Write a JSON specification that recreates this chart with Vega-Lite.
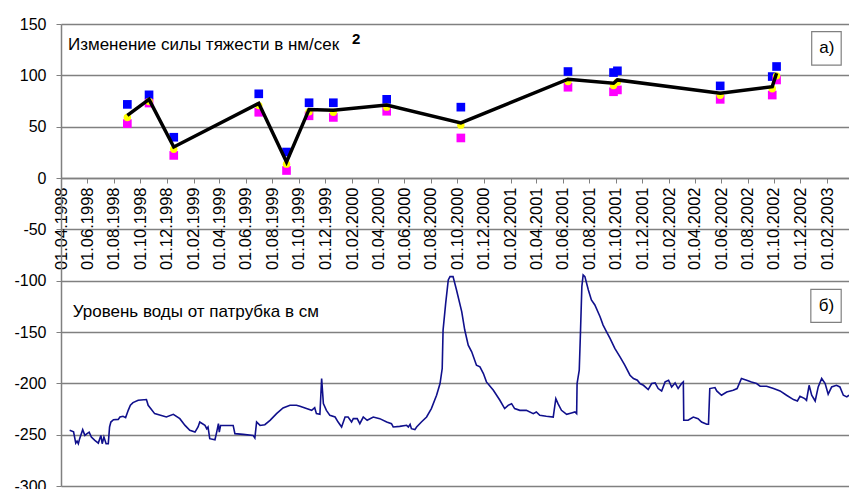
{
  "$schema": "https://vega.github.io/schema/vega-lite/v6.json",
  "autosize": {"type": "none"},
  "padding": {"left": 61, "top": 24, "right": 0, "bottom": 3},
  "width": 788,
  "height": 462,
  "config": {
    "view": {"stroke": null},
    "font": "Liberation Sans"
  },
  "datasets": {
    "grav": [
      {"date": "1998-09-01", "blue": 71.7, "magenta": 53, "mean": 61, "yellow": 59},
      {"date": "1998-10-21", "blue": 81, "magenta": 73, "mean": 76.6, "yellow": 74.5},
      {"date": "1998-12-17", "blue": 39.7, "magenta": 22, "mean": 30.2, "yellow": 28},
      {"date": "1999-07-01", "blue": 82, "magenta": 64, "mean": 72.7, "yellow": 70.5},
      {"date": "1999-09-03", "blue": 25.3, "magenta": 7.3, "mean": 15.5, "yellow": 13.5},
      {"date": "1999-10-25", "blue": 73.3, "magenta": 60.6, "mean": 66.8, "yellow": 64.5},
      {"date": "1999-12-20", "blue": 73.3, "magenta": 59, "mean": 66, "yellow": 64},
      {"date": "2000-04-21", "blue": 76.6, "magenta": 65, "mean": 71, "yellow": 69},
      {"date": "2000-10-09", "blue": 69, "magenta": 39, "mean": 53.7, "yellow": 51.5},
      {"date": "2001-06-13", "blue": 103.7, "magenta": 88.4, "mean": 96.2, "yellow": 94},
      {"date": "2001-09-26", "blue": 102.7, "magenta": 84, "mean": 92.3, "yellow": 90},
      {"date": "2001-10-05", "blue": 104.4, "magenta": 85.8, "mean": 95.5, "yellow": 93.5},
      {"date": "2002-05-30", "blue": 89.7, "magenta": 76.6, "mean": 82.5, "yellow": 80.5},
      {"date": "2002-09-27", "blue": 98.8, "magenta": 80.8, "mean": 89, "yellow": 87},
      {"date": "2002-10-07", "blue": 108.6, "magenta": 95.5, "mean": 102, "yellow": 99.5}
    ],
    "water": [
      {"date": "1998-04-21", "level": -245.8},
      {"date": "1998-04-30", "level": -247.2},
      {"date": "1998-05-05", "level": -258.2},
      {"date": "1998-05-08", "level": -256.2},
      {"date": "1998-05-11", "level": -258.8},
      {"date": "1998-05-14", "level": -253.9},
      {"date": "1998-05-21", "level": -245.1},
      {"date": "1998-05-26", "level": -250.7},
      {"date": "1998-05-31", "level": -249},
      {"date": "1998-06-05", "level": -247.5},
      {"date": "1998-06-10", "level": -252.3},
      {"date": "1998-06-18", "level": -255.6},
      {"date": "1998-06-26", "level": -258.2},
      {"date": "1998-07-02", "level": -250.7},
      {"date": "1998-07-05", "level": -258.8},
      {"date": "1998-07-09", "level": -252.3},
      {"date": "1998-07-14", "level": -258.8},
      {"date": "1998-07-19", "level": -258.8},
      {"date": "1998-07-22", "level": -242.5},
      {"date": "1998-07-25", "level": -237.7},
      {"date": "1998-07-31", "level": -235.4},
      {"date": "1998-08-11", "level": -235.1},
      {"date": "1998-08-15", "level": -232.8},
      {"date": "1998-08-22", "level": -232.1},
      {"date": "1998-08-28", "level": -233.4},
      {"date": "1998-09-03", "level": -226.3},
      {"date": "1998-09-08", "level": -221.4},
      {"date": "1998-09-14", "level": -218.8},
      {"date": "1998-09-26", "level": -216.5},
      {"date": "1998-10-15", "level": -215.8},
      {"date": "1998-10-19", "level": -221.4},
      {"date": "1998-11-03", "level": -229.5},
      {"date": "1998-11-30", "level": -232.8},
      {"date": "1998-12-16", "level": -230.2},
      {"date": "1998-12-31", "level": -234.4},
      {"date": "1999-01-12", "level": -241},
      {"date": "1999-01-23", "level": -245.8},
      {"date": "1999-02-04", "level": -247.5},
      {"date": "1999-02-11", "level": -242.5},
      {"date": "1999-02-15", "level": -237.7},
      {"date": "1999-02-27", "level": -241},
      {"date": "1999-03-03", "level": -244.2},
      {"date": "1999-03-06", "level": -242.5},
      {"date": "1999-03-10", "level": -253.9},
      {"date": "1999-03-22", "level": -254.9},
      {"date": "1999-03-26", "level": -247.5},
      {"date": "1999-03-30", "level": -239.3},
      {"date": "1999-04-01", "level": -247.5},
      {"date": "1999-04-04", "level": -241},
      {"date": "1999-05-03", "level": -241},
      {"date": "1999-05-07", "level": -249},
      {"date": "1999-05-26", "level": -249.7},
      {"date": "1999-06-18", "level": -250.7},
      {"date": "1999-06-22", "level": -253.3},
      {"date": "1999-06-26", "level": -237.7},
      {"date": "1999-07-04", "level": -241},
      {"date": "1999-07-15", "level": -240.3},
      {"date": "1999-07-27", "level": -236},
      {"date": "1999-08-11", "level": -229.5},
      {"date": "1999-08-26", "level": -224},
      {"date": "1999-09-11", "level": -221.4},
      {"date": "1999-09-26", "level": -221.4},
      {"date": "1999-10-04", "level": -222.4},
      {"date": "1999-10-19", "level": -224.6},
      {"date": "1999-10-31", "level": -226.3},
      {"date": "1999-11-07", "level": -223.7},
      {"date": "1999-11-11", "level": -229.5},
      {"date": "1999-11-19", "level": -230.2},
      {"date": "1999-11-23", "level": -195.3},
      {"date": "1999-11-27", "level": -219.8},
      {"date": "1999-12-04", "level": -226.3},
      {"date": "1999-12-12", "level": -231.2},
      {"date": "1999-12-24", "level": -232.8},
      {"date": "1999-12-31", "level": -237.7},
      {"date": "2000-01-08", "level": -242.5},
      {"date": "2000-01-16", "level": -232.8},
      {"date": "2000-01-23", "level": -232.8},
      {"date": "2000-01-31", "level": -237.7},
      {"date": "2000-02-04", "level": -234.4},
      {"date": "2000-02-13", "level": -234.4},
      {"date": "2000-02-19", "level": -239.3},
      {"date": "2000-02-27", "level": -232.8},
      {"date": "2000-03-07", "level": -236},
      {"date": "2000-03-21", "level": -232.8},
      {"date": "2000-04-05", "level": -234.4},
      {"date": "2000-04-21", "level": -237.7},
      {"date": "2000-05-02", "level": -239.3},
      {"date": "2000-05-06", "level": -242.5},
      {"date": "2000-05-21", "level": -241.9},
      {"date": "2000-06-06", "level": -240.9},
      {"date": "2000-06-10", "level": -242.5},
      {"date": "2000-06-14", "level": -239.9},
      {"date": "2000-06-17", "level": -244.2},
      {"date": "2000-06-25", "level": -245.1},
      {"date": "2000-06-29", "level": -242.5},
      {"date": "2000-07-10", "level": -237.7},
      {"date": "2000-07-22", "level": -232.8},
      {"date": "2000-08-02", "level": -224.6},
      {"date": "2000-08-14", "level": -211.6},
      {"date": "2000-08-22", "level": -200.2},
      {"date": "2000-08-27", "level": -185.6},
      {"date": "2000-08-29", "level": -148.1},
      {"date": "2000-09-04", "level": -122.1},
      {"date": "2000-09-10", "level": -99.3},
      {"date": "2000-09-14", "level": -96.1},
      {"date": "2000-09-21", "level": -96.1},
      {"date": "2000-09-29", "level": -109.1},
      {"date": "2000-10-11", "level": -130.2},
      {"date": "2000-10-18", "level": -148.1},
      {"date": "2000-10-26", "level": -162.8},
      {"date": "2000-11-03", "level": -169.3},
      {"date": "2000-11-14", "level": -182.3},
      {"date": "2000-11-22", "level": -184},
      {"date": "2000-11-30", "level": -190.5},
      {"date": "2000-12-07", "level": -198.6},
      {"date": "2000-12-23", "level": -206.7},
      {"date": "2001-01-07", "level": -216.5},
      {"date": "2001-01-18", "level": -224.6},
      {"date": "2001-01-26", "level": -221.4},
      {"date": "2001-02-03", "level": -219.8},
      {"date": "2001-02-10", "level": -224.6},
      {"date": "2001-02-22", "level": -226.3},
      {"date": "2001-03-09", "level": -226.3},
      {"date": "2001-03-25", "level": -229.5},
      {"date": "2001-04-01", "level": -227.9},
      {"date": "2001-04-09", "level": -231.2},
      {"date": "2001-04-24", "level": -232.1},
      {"date": "2001-05-10", "level": -232.8},
      {"date": "2001-05-16", "level": -214.9},
      {"date": "2001-05-21", "level": -219.8},
      {"date": "2001-05-29", "level": -226.3},
      {"date": "2001-06-10", "level": -230.2},
      {"date": "2001-06-21", "level": -228.9},
      {"date": "2001-06-29", "level": -227.9},
      {"date": "2001-07-03", "level": -229.5},
      {"date": "2001-07-04", "level": -200.2},
      {"date": "2001-07-09", "level": -187.2},
      {"date": "2001-07-12", "level": -148.1},
      {"date": "2001-07-15", "level": -105.8},
      {"date": "2001-07-18", "level": -94.4},
      {"date": "2001-07-22", "level": -96.1},
      {"date": "2001-07-30", "level": -109.1},
      {"date": "2001-08-06", "level": -118.8},
      {"date": "2001-08-14", "level": -123.7},
      {"date": "2001-08-26", "level": -135.1},
      {"date": "2001-09-02", "level": -143.3},
      {"date": "2001-09-10", "level": -149.8},
      {"date": "2001-09-18", "level": -156.3},
      {"date": "2001-09-29", "level": -166},
      {"date": "2001-10-11", "level": -174.2},
      {"date": "2001-10-22", "level": -182.3},
      {"date": "2001-11-03", "level": -192.1},
      {"date": "2001-11-11", "level": -195.3},
      {"date": "2001-11-20", "level": -197},
      {"date": "2001-11-26", "level": -200.2},
      {"date": "2001-12-04", "level": -201.9},
      {"date": "2001-12-15", "level": -206.1},
      {"date": "2001-12-23", "level": -200.2},
      {"date": "2001-12-31", "level": -199.6},
      {"date": "2002-01-07", "level": -205.1},
      {"date": "2002-01-15", "level": -207.4},
      {"date": "2002-01-23", "level": -198.6},
      {"date": "2002-01-31", "level": -197},
      {"date": "2002-02-07", "level": -203.5},
      {"date": "2002-02-15", "level": -199.6},
      {"date": "2002-02-22", "level": -205.1},
      {"date": "2002-03-02", "level": -200.2},
      {"date": "2002-03-06", "level": -198.6},
      {"date": "2002-03-07", "level": -236},
      {"date": "2002-03-17", "level": -236},
      {"date": "2002-03-29", "level": -232.8},
      {"date": "2002-04-09", "level": -234.4},
      {"date": "2002-04-17", "level": -237.7},
      {"date": "2002-04-29", "level": -239.9},
      {"date": "2002-05-03", "level": -239.9},
      {"date": "2002-05-06", "level": -205.1},
      {"date": "2002-05-18", "level": -204.1},
      {"date": "2002-05-22", "level": -207.4},
      {"date": "2002-06-02", "level": -211.6},
      {"date": "2002-06-14", "level": -208.4},
      {"date": "2002-06-29", "level": -206.7},
      {"date": "2002-07-08", "level": -205.1},
      {"date": "2002-07-18", "level": -195.3},
      {"date": "2002-07-30", "level": -197},
      {"date": "2002-08-10", "level": -198.6},
      {"date": "2002-08-22", "level": -200.2},
      {"date": "2002-08-30", "level": -202.8},
      {"date": "2002-09-14", "level": -202.8},
      {"date": "2002-09-30", "level": -205.1},
      {"date": "2002-10-15", "level": -207.4},
      {"date": "2002-10-30", "level": -211.6},
      {"date": "2002-11-15", "level": -215.8},
      {"date": "2002-11-24", "level": -217.2},
      {"date": "2002-11-30", "level": -212.6},
      {"date": "2002-12-11", "level": -214.9},
      {"date": "2002-12-15", "level": -216.5},
      {"date": "2002-12-21", "level": -201.9},
      {"date": "2002-12-27", "level": -211.6},
      {"date": "2003-01-04", "level": -217.2},
      {"date": "2003-01-11", "level": -203.5},
      {"date": "2003-01-19", "level": -195.3},
      {"date": "2003-01-27", "level": -200.2},
      {"date": "2003-02-03", "level": -210.6},
      {"date": "2003-02-11", "level": -203.5},
      {"date": "2003-02-22", "level": -201.9},
      {"date": "2003-03-02", "level": -203.5},
      {"date": "2003-03-10", "level": -211.6},
      {"date": "2003-03-18", "level": -213.2},
      {"date": "2003-03-23", "level": -211.6}
    ]
  },
  "layer": [
    {
      "data": {"name": "water"},
      "mark": {"type": "line", "color": "#10108c", "strokeWidth": 1.6, "clip": true},
      "encoding": {
        "x": {
          "field": "date", "type": "temporal", "title": null,
          "scale": {"type": "utc", "domain": [{"year": 1998, "month": 4, "date": 1, "utc": true}, {"year": 2003, "month": 3, "date": 23, "utc": true}]},
          "axis": {
            "orient": "bottom", "offset": -308,
            "tickCount": 60,
            "values": [891388800000, 896659200000, 901929600000, 907200000000, 912470400000, 917827200000, 922924800000, 928195200000, 933465600000, 938736000000, 944006400000, 949363200000, 954547200000, 959817600000, 965088000000, 970358400000, 975628800000, 980985600000, 986083200000, 991353600000, 996624000000, 1001894400000, 1007164800000, 1012521600000, 1017619200000, 1022889600000, 1028160000000, 1033430400000, 1038700800000, 1044057600000],
            "labelExpr": "utcFormat(datum.value, '%d.%m.%Y')",
            "labelAngle": 270, "labelAlign": "right", "labelBaseline": "middle",
            "labelFontSize": 16.5, "labelColor": "#000000", "labelPadding": 4,
            "labelOverlap": false, "labelBound": false, "labelFlush": false,
            "tickSize": 5, "tickColor": "#808080", "domainColor": "#808080", "domainWidth": 1.3,
            "grid": false
          }
        },
        "y": {
          "field": "level", "type": "quantitative", "title": null,
          "scale": {"domain": [-300, 150], "nice": false, "zero": false},
          "axis": {
            "values": [-300, -250, -200, -150, -100, -50, 0, 50, 100, 150],
            "tickCount": 20,
            "labelExpr": "'' + datum.value",
            "grid": true, "gridColor": "#808080", "gridWidth": 1.3,
            "domainColor": "#808080", "domainWidth": 1.5,
            "tickColor": "#808080", "tickSize": 5,
            "labelFontSize": 16, "labelColor": "#000000", "labelPadding": 10
          }
        }
      }
    },
    {
      "data": {"name": "grav"},
      "mark": {"type": "point", "shape": "square", "filled": true, "size": 75, "color": "#0000ff", "opacity": 1},
      "encoding": {
        "x": {"field": "date", "type": "temporal", "title": null},
        "y": {"field": "blue", "type": "quantitative", "title": null}
      }
    },
    {
      "data": {"name": "grav"},
      "mark": {"type": "point", "shape": "square", "filled": true, "size": 75, "color": "#ff00ff", "opacity": 1},
      "encoding": {
        "x": {"field": "date", "type": "temporal", "title": null},
        "y": {"field": "magenta", "type": "quantitative", "title": null}
      }
    },
    {
      "data": {"name": "grav"},
      "mark": {"type": "point", "shape": "circle", "filled": true, "size": 55, "color": "#ffff00", "opacity": 1},
      "encoding": {
        "x": {"field": "date", "type": "temporal", "title": null},
        "y": {"field": "yellow", "type": "quantitative", "title": null}
      }
    },
    {
      "data": {"name": "grav"},
      "mark": {"type": "line", "color": "#000000", "strokeWidth": 3.5},
      "encoding": {
        "x": {"field": "date", "type": "temporal", "title": null},
        "y": {"field": "mean", "type": "quantitative", "title": null}
      }
    },
    {
      "data": {"values": [{}]},
      "mark": {"type": "text", "text": "Изменение силы тяжести в нм/сек", "align": "left", "baseline": "middle", "fontSize": 17, "color": "#000000"},
      "encoding": {
        "x": {"datum": {"year": 1998, "month": 4, "date": 17, "utc": true}, "type": "temporal"},
        "y": {"datum": 129.5, "type": "quantitative"}
      }
    },
    {
      "data": {"values": [{}]},
      "mark": {"type": "text", "text": "2", "align": "left", "baseline": "middle", "fontSize": 15, "fontWeight": "bold", "color": "#000000"},
      "encoding": {
        "x": {"datum": {"year": 2000, "month": 2, "date": 1, "utc": true}, "type": "temporal"},
        "y": {"datum": 135.5, "type": "quantitative"}
      }
    },
    {
      "data": {"values": [{}]},
      "mark": {"type": "text", "text": "Уровень воды от патрубка в см", "align": "left", "baseline": "middle", "fontSize": 17, "color": "#000000"},
      "encoding": {
        "x": {"datum": {"year": 1998, "month": 4, "date": 28, "utc": true}, "type": "temporal"},
        "y": {"datum": -130.3, "type": "quantitative"}
      }
    },
    {
      "data": {"values": [{}]},
      "mark": {"type": "rect", "fill": "#ffffff", "stroke": "#808080", "strokeWidth": 1.2},
      "encoding": {
        "x": {"datum": {"year": 2002, "month": 12, "date": 27, "utc": true}, "type": "temporal"},
        "x2": {"datum": {"year": 2003, "month": 3, "date": 5, "utc": true}},
        "y": {"datum": 142.5, "type": "quantitative"},
        "y2": {"datum": 110}
      }
    },
    {
      "data": {"values": [{}]},
      "mark": {"type": "text", "text": "а)", "align": "center", "baseline": "middle", "fontSize": 17, "color": "#000000"},
      "encoding": {
        "x": {"datum": {"year": 2003, "month": 1, "date": 31, "utc": true}, "type": "temporal"},
        "y": {"datum": 126.5, "type": "quantitative"}
      }
    },
    {
      "data": {"values": [{}]},
      "mark": {"type": "rect", "fill": "#ffffff", "stroke": "#808080", "strokeWidth": 1.2},
      "encoding": {
        "x": {"datum": {"year": 2002, "month": 12, "date": 25, "utc": true}, "type": "temporal"},
        "x2": {"datum": {"year": 2003, "month": 3, "date": 5, "utc": true}},
        "y": {"datum": -108.4, "type": "quantitative"},
        "y2": {"datum": -140.6}
      }
    },
    {
      "data": {"values": [{}]},
      "mark": {"type": "text", "text": "б)", "align": "center", "baseline": "middle", "fontSize": 17, "color": "#000000"},
      "encoding": {
        "x": {"datum": {"year": 2003, "month": 1, "date": 30, "utc": true}, "type": "temporal"},
        "y": {"datum": -124.5, "type": "quantitative"}
      }
    }
  ]
}
